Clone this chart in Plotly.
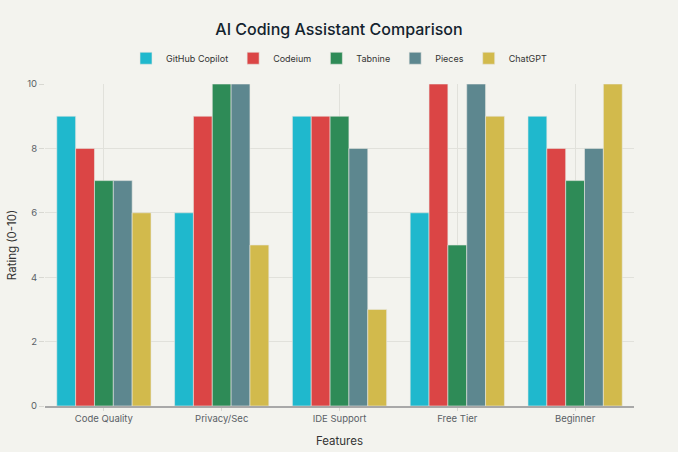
import plotly.graph_objects as go

categories = ["Code Quality", "Privacy/Sec", "IDE Support", "Free Tier", "Beginner"]
series_names = ["GitHub Copilot", "Codeium", "Tabnine", "Pieces", "ChatGPT"]
copilot = [9, 6, 9, 6, 9]
codeium = [8, 9, 9, 10, 8]
tabnine = [7, 10, 9, 5, 7]
pieces = [7, 10, 8, 10, 8]
chatgpt = [6, 5, 3, 9, 10]
colors = ["#1FB8CD", "#DB4545", "#2E8B57", "#5D878F", "#D2BA4C"]

fig = go.Figure()
for name, vals, col in zip(series_names, [copilot, codeium, tabnine, pieces, chatgpt], colors):
    fig.add_trace(go.Bar(name=name, x=categories, y=vals, marker=dict(color=col, line=dict(color="#E8E8E3", width=0.6))))

fig.update_layout(
    width=678, height=452,
    paper_bgcolor="#F3F3EE", plot_bgcolor="#F3F3EE",
    font=dict(family="Inter, Roboto, sans-serif", color="#5A5F66", size=9.5),
    title=dict(text="AI Coding Assistant Comparison", x=0.5, xanchor="center", y=0.935, yanchor="middle",
               font=dict(size=16, color="#13232E", weight=500)),
    legend=dict(orientation="h", x=0.5, xanchor="center", y=1.08, yanchor="middle",
                font=dict(size=9, color="#333333"), bgcolor="rgba(0,0,0,0)",
                entrywidth=0, itemwidth=30),
    barmode="group", bargap=0.2, bargroupgap=0,
    margin=dict(l=45, r=44, t=84, b=46, autoexpand=False),
    xaxis=dict(title=dict(text="Features", font=dict(size=11.5, color="#333333"), standoff=14),
               automargin=False,
               showgrid=True, gridcolor="#E1E1DB", showline=True, linecolor="#A8A8A8", linewidth=1.5,
               ticks="outside", ticklen=3, tickcolor="#D8D8D2"),
    yaxis=dict(title=dict(text="Rating (0-10)", font=dict(size=11.5, color="#333333"), standoff=8),
               automargin=False,
               range=[0, 10], dtick=2, showgrid=True, gridcolor="#E1E1DB", zeroline=False,
               ticks="outside", ticklen=5, tickcolor="#D8D8D2"),
)
fig.write_html("out.html")
